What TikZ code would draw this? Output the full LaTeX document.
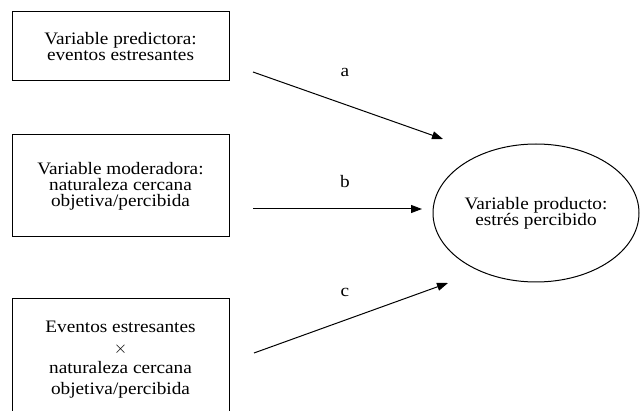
\documentclass[tikz,border=0pt]{standalone}
\usepackage{fontspec}
\setmainfont{Liberation Serif}[FakeStretch = 1.1]
\usetikzlibrary{arrows.meta, shapes.geometric}

\tikzset{
  varbox/.style = {draw, line width = 1pt, minimum width = 217pt, align = center, inner sep = 0pt},
  flecha/.style = {line width = 1pt, -{Triangle[length = 11pt, width = 8pt]}},
  etiq/.style = {font = \fontsize{17.5}{17.5}\selectfont}
}

\begin{document}
\begin{tikzpicture}[x = 1pt, y = 1pt, font = \fontsize{17.5}{16}\selectfont]
\clip (0,0) rectangle (640,410);
\useasboundingbox (0,0) rectangle (640,410);
\node[varbox, minimum height = 69pt] (y1) at (120.5,363.5) {Variable predictora:\\eventos estresantes};
\node[varbox, minimum height = 102pt] (y2) at (120.5,224) {Variable moderadora:\\naturaleza cercana\\objetiva/percibida};
\node[varbox, minimum height = 121pt, font = \fontsize{17.5}{20.5}\selectfont] (y3) at (120.5,50.5) {Eventos estresantes\\$\times$\\naturaleza cercana\\objetiva/percibida};
\node[draw, line width = 1pt, ellipse, minimum width = 206pt, minimum height = 138pt, inner sep = 0pt, align = center] (z1) at (536,197) {Variable producto:\\estr\'es percibido};
\coordinate (a0) at (253,338);
\coordinate (a1) at (443,271);
\coordinate (b0) at (253,201);
\coordinate (b1) at (422,201);
\coordinate (c0) at (254,57);
\coordinate (c1) at (448,127);
\draw[flecha] (a0) -- (a1);
\draw[flecha] (b0) -- (b1);
\draw[flecha] (c0) -- (c1);
\node[etiq] (ta) at (345,338) {a};
\node[etiq] (tb) at (345,228) {b};
\node[etiq] (tc) at (345,118) {c};
\end{tikzpicture}
\end{document}
